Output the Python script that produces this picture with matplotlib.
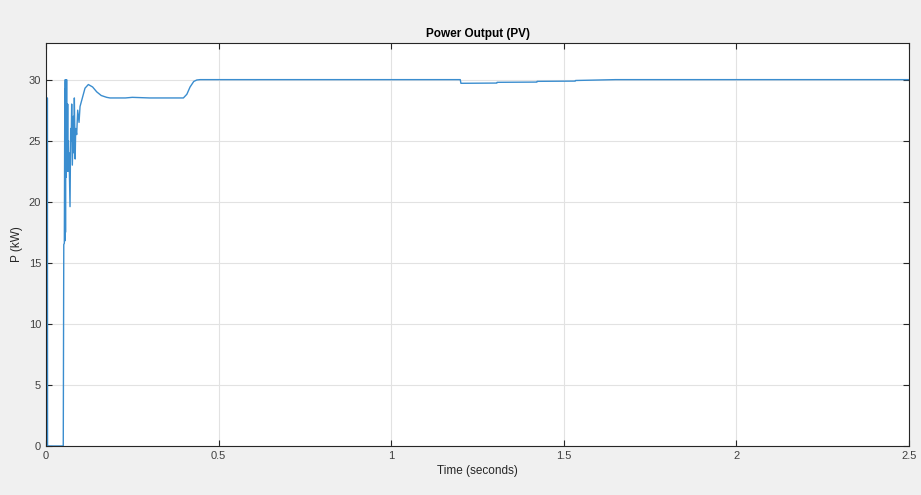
import matplotlib
matplotlib.use('Agg')
import matplotlib.pyplot as plt

# PV power output trace (time in s, power in kW)
time_s = [0.0, 0.0035, 0.0040, 0.0045, 0.050, 0.0505, 0.0515, 0.0531, 0.0545, 0.0551, 0.0558,
          0.0565, 0.0570, 0.0578, 0.0585, 0.0589, 0.0597, 0.0605, 0.0609, 0.0617,
          0.0628, 0.0638, 0.0648, 0.0657, 0.0667, 0.0696, 0.0715, 0.0730, 0.0744,
          0.0763, 0.0792, 0.0810, 0.0821, 0.0845, 0.0860, 0.0889, 0.0918, 0.0957,
          0.0986, 0.1034, 0.1130, 0.1227, 0.1350, 0.1469, 0.1600, 0.1758, 0.1855,
          0.2300, 0.2500, 0.3000, 0.3500, 0.3980, 0.4080, 0.4174, 0.4280, 0.4367,
          0.4464, 0.5000, 1.2000, 1.2020, 1.3060, 1.3070, 1.4220, 1.4230, 1.5330,
          1.5340, 1.6500, 2.5000]
power_kw = [0.0, 0.0, 28.5, 0.0, 0.0, 5.5, 16.5, 16.6, 29.2, 16.8, 30.0,
            17.5, 29.8, 22.0, 30.0, 23.0, 30.0, 22.5, 24.5, 23.0,
            28.0, 22.5, 25.0, 23.5, 24.0, 19.6, 26.0, 25.0, 28.0,
            23.0, 27.0, 24.0, 28.5, 23.5, 26.0, 25.5, 27.5, 26.5,
            27.8, 28.3, 29.3, 29.6, 29.4, 29.0, 28.7, 28.55, 28.5,
            28.5, 28.55, 28.5, 28.5, 28.5, 28.8, 29.4, 29.85, 29.97,
            30.0, 30.0, 30.0, 29.7, 29.72, 29.78, 29.8, 29.86, 29.88,
            29.93, 30.0, 30.0]

x_ticks = [0, 0.5, 1, 1.5, 2, 2.5]
x_tick_labels = ['0', '0.5', '1', '1.5', '2', '2.5']
y_ticks = [0, 5, 10, 15, 20, 25, 30]

plt.rcParams['font.family'] = ['Liberation Sans', 'DejaVu Sans']

fig = plt.figure(figsize=(9.21, 4.95), dpi=100, facecolor='#f0f0f0')
ax = fig.add_axes([46 / 921, 49 / 495, 863 / 921, 403 / 495])
ax.set_facecolor('white')

ax.plot(time_s, power_kw, color='#3a8dcf', lw=1.0)

ax.set_xlim(0, 2.5)
ax.set_ylim(0, 33)
ax.set_xticks(x_ticks)
ax.set_xticklabels(x_tick_labels)
ax.set_yticks(y_ticks)
ax.grid(True, color='#e2e2e2', lw=0.8)
ax.set_axisbelow(True)

ax.tick_params(direction='in', length=4, width=0.8, colors='#262626',
               labelsize=8, top=True, right=True, labelcolor='#404040')
for s in ax.spines.values():
    s.set_color('#262626')
    s.set_linewidth(0.8)

ax.set_title('Power Output (PV)', fontsize=8.5, fontweight='bold', pad=4)
ax.set_xlabel('Time (seconds)', fontsize=8.5, color='#262626', labelpad=3)
ax.set_ylabel('P (kW)', fontsize=8.5, color='#262626', labelpad=4)

fig.savefig('out.png', dpi=100, facecolor=fig.get_facecolor())
